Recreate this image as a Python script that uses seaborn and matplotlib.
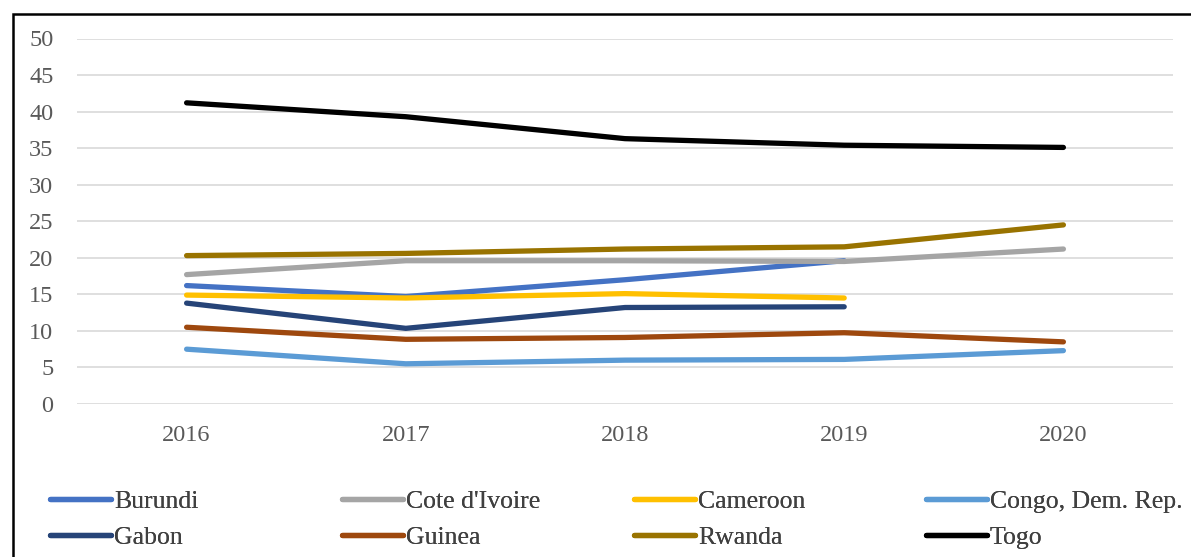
import numpy as np
import pandas as pd
import seaborn as sns
import matplotlib
matplotlib.use("Agg")
import matplotlib.pyplot as plt
from matplotlib.patches import Rectangle
from matplotlib.lines import Line2D

years = [2016, 2017, 2018, 2019, 2020]
burundi = [16.2, 14.7, 17.0, 19.6, np.nan]
cote_divoire = [17.7, 19.6, 19.6, 19.5, 21.2]
cameroon = [14.9, 14.5, 15.1, 14.5, np.nan]
congo = [7.5, 5.5, 6.0, 6.1, 7.3]
gabon = [13.8, 10.35, 13.2, 13.3, np.nan]
guinea = [10.5, 8.85, 9.1, 9.75, 8.5]
rwanda = [20.3, 20.6, 21.2, 21.5, 24.5]
togo = [41.2, 39.3, 36.3, 35.4, 35.1]

countries = ["Burundi", "Cote d'Ivoire", "Cameroon", "Congo, Dem. Rep.",
             "Gabon", "Guinea", "Rwanda", "Togo"]
series = [burundi, cote_divoire, cameroon, congo, gabon, guinea, rwanda, togo]
colors = ["#4472C4", "#A5A5A5", "#FFC000", "#5B9BD5",
          "#264478", "#9E480E", "#997300", "#000000"]
yticks = list(range(0, 55, 5))

rows = []
for c, vals in zip(countries, series):
    for y, v in zip(years, vals):
        if not np.isnan(v):
            rows.append({"Year": y, "Value": v, "Country": c})
df = pd.DataFrame(rows)

sns.set_theme(style="white")
plt.rcParams["font.family"] = ["Liberation Serif", "DejaVu Serif"]

W, H = 1191, 557
fig = plt.figure(figsize=(W / 100, H / 100), dpi=100)
ax = fig.add_axes([77 / W, (H - 404) / H, 1096 / W, (404 - 38.5) / H])

palette = dict(zip(countries, colors))
sns.lineplot(data=df, x="Year", y="Value", hue="Country", hue_order=countries,
             palette=palette, linewidth=3.8, ax=ax, legend=False,
             solid_capstyle="round")

ax.set_xlim(2015.5, 2020.5)
ax.set_ylim(0, 50)
ax.set_xticks(years)
ax.set_xticklabels([str(y) for y in years])
ax.set_yticks(yticks)
ax.set_xlabel("")
ax.set_ylabel("")
for s in ax.spines.values():
    s.set_visible(False)
ax.yaxis.grid(True, color="#D9D9D9", linewidth=1.2)
ax.xaxis.grid(False)
ax.set_axisbelow(True)
ax.tick_params(axis="y", length=0, pad=17, labelsize=17.5, labelcolor="#595959")
ax.tick_params(axis="x", length=0, pad=15, labelsize=17.5, labelcolor="#595959")

# legend: 4 columns, 2 rows
col_x = [50, 342, 634, 926]
for i, x0 in enumerate(col_x):
    handles = [Line2D([], [], color=colors[i], lw=3.8, solid_capstyle="round"),
               Line2D([], [], color=colors[i + 4], lw=3.8, solid_capstyle="round")]
    labels = [countries[i], countries[i + 4]]
    leg = fig.legend(handles, labels, loc="center left",
                     bbox_to_anchor=(x0 / W, 1 - 519.5 / H),
                     frameon=False, fontsize=18.5, handlelength=2.37,
                     handletextpad=0.12, labelspacing=0.5, borderpad=0,
                     borderaxespad=0, labelcolor="#404040")
    fig.add_artist(leg)

# outer border
fig.add_artist(Rectangle((12.5 / W, -0.1), 1.2, 1 - 13.5 / H + 0.1,
                         transform=fig.transFigure, fill=False,
                         edgecolor="black", linewidth=1.8, clip_on=False))

fig.savefig("out.png", dpi=100)
